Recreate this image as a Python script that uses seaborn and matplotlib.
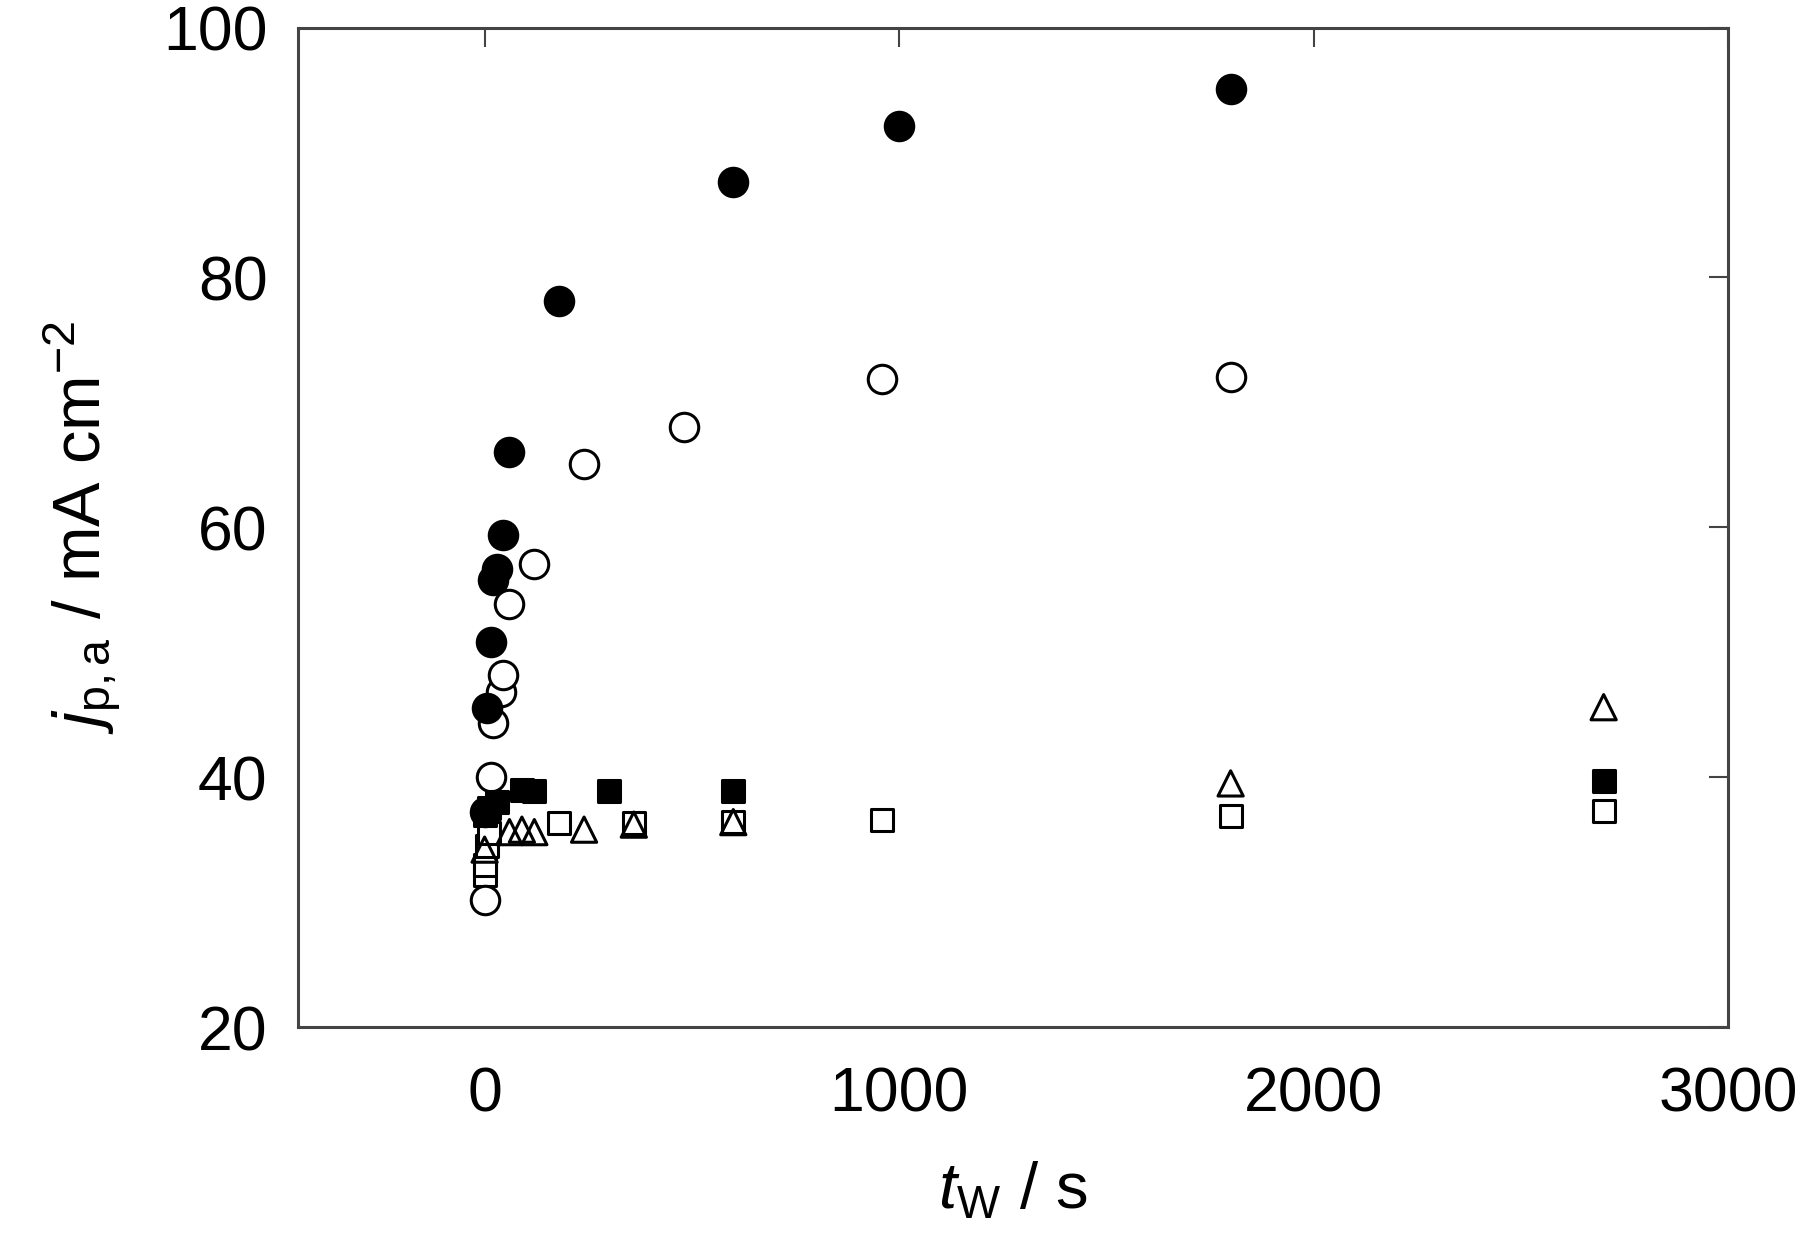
import matplotlib
matplotlib.use("Agg")
import matplotlib.pyplot as plt
import seaborn as sns

# filled circles
t_fc = [0, 5, 15, 20, 30, 45, 60, 180, 600, 1000, 1800]
j_fc = [37.2, 45.5, 50.8, 55.8, 56.7, 59.4, 66.0, 78.1, 87.6, 92.1, 95.1]
# open circles
t_oc = [0, 15, 20, 40, 45, 60, 120, 240, 480, 960, 1800]
j_oc = [30.2, 40.0, 44.3, 46.8, 48.2, 53.9, 57.1, 65.1, 68.0, 71.9, 72.0]
# filled squares
t_fs = [0, 10, 30, 90, 120, 300, 600, 2700]
j_fs = [37.0, 37.5, 38.0, 39.0, 38.9, 38.9, 38.9, 39.7]
# open squares
t_os = [0, 0, 5, 10, 180, 360, 600, 960, 1800, 2700]
j_os = [32.2, 33.0, 34.5, 35.5, 36.3, 36.3, 36.4, 36.6, 36.9, 37.3]
# open triangles
t_ot = [0, 60, 90, 120, 240, 360, 600, 1800, 2700]
j_ot = [34.2, 35.6, 35.8, 35.6, 35.8, 36.2, 36.4, 39.5, 45.6]

sns.set_style("white")
plt.rcParams['font.family'] = ['Liberation Sans', 'DejaVu Sans']
plt.rcParams['mathtext.fontset'] = 'custom'
plt.rcParams['mathtext.rm'] = 'Liberation Sans'
plt.rcParams['mathtext.it'] = 'Liberation Sans:italic'
plt.rcParams['text.color'] = 'black'
plt.rcParams['axes.labelcolor'] = 'black'
plt.rcParams['xtick.color'] = 'black'
plt.rcParams['ytick.color'] = 'black'

fig = plt.figure(figsize=(18, 12.58), dpi=100)
ax = fig.add_axes([0.1656, 0.1836, 0.7944, 0.7945])

kw = dict(ax=ax, linewidth=2.2, zorder=3, legend=False)
sns.scatterplot(x=t_os, y=j_os, marker='s', s=270, facecolor='white', edgecolor='black', **kw)
sns.scatterplot(x=t_ot, y=j_ot, marker='^', s=330, facecolor='none', edgecolor='black', **kw)
sns.scatterplot(x=t_oc, y=j_oc, marker='o', s=420, facecolor='white', edgecolor='black', **kw)
sns.scatterplot(x=t_fs, y=j_fs, marker='s', s=270, color='black', edgecolor='black', **kw)
sns.scatterplot(x=t_fc, y=j_fc, marker='o', s=420, color='black', edgecolor='black', **kw)

ax.set_xlim(-450, 3000)
ax.set_ylim(20, 100)
ax.set_xticks([0, 1000, 2000, 3000])
ax.set_yticks([20, 40, 60, 80, 100])

for sp in ax.spines.values():
    sp.set_color('#444444')
    sp.set_linewidth(2.2)
ax.tick_params(direction='in', length=14, width=1.5, color='#444444',
               labelcolor='black', top=True, right=True, labelsize=45, pad=28)
ax.tick_params(axis='y', pad=22)

ax.set_xlabel(r'$t_{\mathrm{W}}$ / s', fontsize=47, labelpad=26)
ax.set_ylabel(r'$j_{\mathrm{p,a}}$ / mA cm$^{\mathrm{-2}}$', fontsize=48, labelpad=28)

fig.savefig('out.png', dpi=100)
